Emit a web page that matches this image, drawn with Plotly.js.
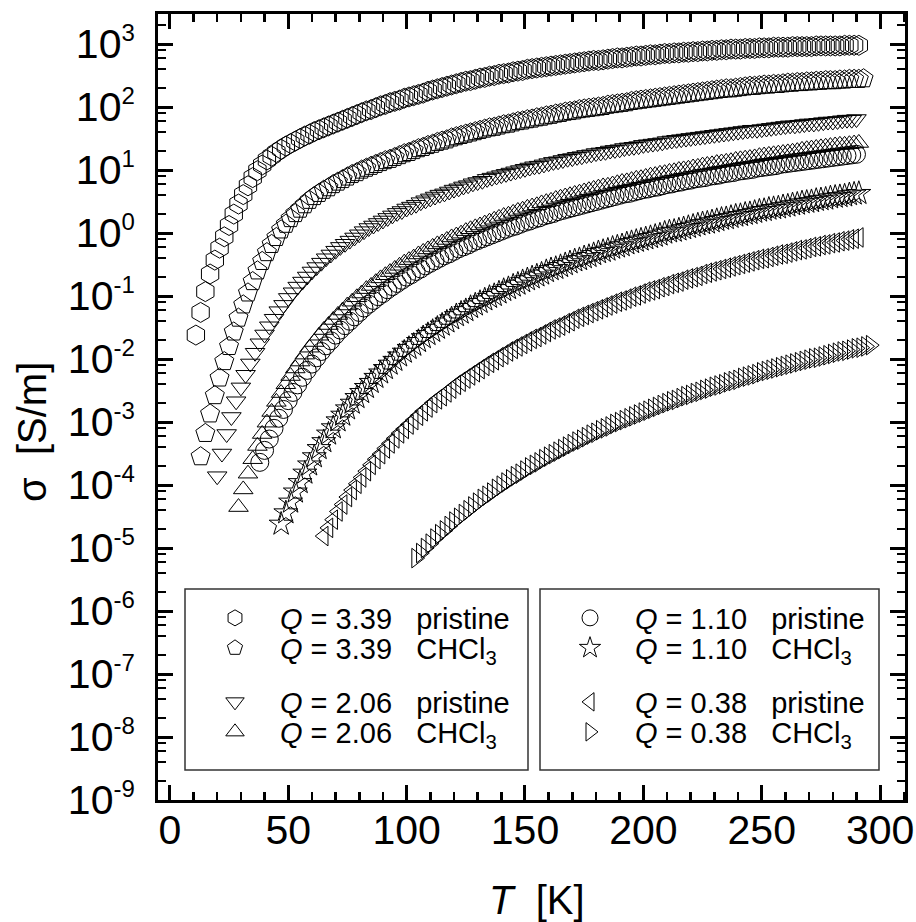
<!DOCTYPE html>
<html><head><meta charset="utf-8">
<script src="https://cdn.plot.ly/plotly-3.0.1.min.js"></script>
<style>html,body{margin:0;padding:0;background:#fff}#chart{width:916px;height:922px}</style>
</head><body><div id="chart"></div>
<script>
// Temperatures T [K] and log10(sigma [S/m])
const T_hex = [11,13,15,17,19,21,23,25,27,29,31,33,35,
37,39,41,43,45,47,49,51,53,55,57,59,61,63,65,67,69,71,73,75,77,79,81,83,85,87,89,91,93,95,97,99,
101,103,105,107,109,111,113,115,117,119,121,123,125,127,129,131,133,135,137,139,141,143,145,147,149,
151,153,155,157,159,161,163,165,167,169,171,173,175,177,179,181,183,185,187,189,191,193,195,197,199,
201,203,205,207,209,211,213,215,217,219,221,223,225,227,229,231,233,235,237,239,241,243,245,247,249,
251,253,255,257,259,261,263,265,267,269,271,273,275,277,279,281,283,285,287,289,291];
const logS_hex = [-1.62,-1.26,-0.93,-0.65,-0.43,-0.24,-0.06,0.12,0.30,0.46,0.61,0.75,0.88,
0.99,1.08,1.16,1.22,1.28,1.33,1.38,1.42,1.46,1.50,1.54,1.57,1.61,1.64,1.67,1.70,1.73,1.76,1.79,1.82,1.85,1.88,1.91,1.94,1.96,1.99,2.02,2.04,2.07,2.09,2.11,2.14,
2.16,2.18,2.20,2.22,2.25,2.27,2.29,2.31,2.33,2.35,2.37,2.39,2.41,2.42,2.44,2.46,2.47,2.49,2.50,2.52,2.53,2.54,2.56,2.57,2.58,
2.60,2.61,2.62,2.63,2.64,2.65,2.66,2.67,2.68,2.69,2.70,2.71,2.72,2.73,2.74,2.74,2.75,2.76,2.77,2.78,2.78,2.79,2.80,2.81,2.81,
2.82,2.83,2.83,2.84,2.85,2.85,2.86,2.86,2.87,2.87,2.88,2.88,2.89,2.89,2.90,2.90,2.91,2.91,2.92,2.92,2.92,2.93,2.93,2.93,2.94,
2.94,2.94,2.95,2.95,2.95,2.95,2.96,2.96,2.96,2.96,2.96,2.97,2.97,2.97,2.97,2.97,2.97,2.98,2.98,2.98,2.98];

const T_pent = [13,15,17,19,21,23,25,27,29,31,33,35,37,39,41,
43,45,47,49,51,53,55,57,59,61,63,65,67,69,71,73,75,77,79,81,83,85,87,89,91,93,95,97,99,
101,103,105,107,109,111,113,115,117,119,121,123,125,127,129,131,133,135,137,139,141,143,145,147,149,
151,153,155,157,159,161,163,165,167,169,171,173,175,177,179,181,183,185,187,189,191,193,195,197,199,
201,203,205,207,209,211,213,215,217,219,221,223,225,227,229,231,233,235,237,239,241,243,245,247,249,
251,253,255,257,259,261,263,265,267,269,271,273,275,277,279,281,283,285,287,289,291,293];
const logS_pent = [-3.55,-3.18,-2.87,-2.58,-2.30,-2.04,-1.80,-1.57,-1.35,-1.14,-0.95,-0.77,-0.60,-0.45,-0.31,
-0.18,-0.07,0.05,0.14,0.23,0.31,0.38,0.45,0.52,0.58,0.63,0.68,0.72,0.77,0.81,0.85,0.89,0.93,0.96,1.00,1.03,1.06,1.09,1.12,1.15,1.17,1.20,1.23,1.26,
1.28,1.31,1.34,1.36,1.39,1.41,1.44,1.46,1.48,1.51,1.53,1.55,1.57,1.59,1.61,1.63,1.65,1.67,1.68,1.70,1.72,1.73,1.75,1.77,1.78,
1.80,1.81,1.83,1.84,1.86,1.87,1.89,1.90,1.92,1.93,1.94,1.96,1.97,1.98,1.99,2.00,2.01,2.03,2.04,2.05,2.06,2.07,2.09,2.10,2.11,
2.12,2.13,2.14,2.15,2.16,2.17,2.18,2.19,2.20,2.21,2.22,2.23,2.24,2.25,2.26,2.27,2.28,2.29,2.29,2.30,2.31,2.32,2.33,2.33,2.34,
2.35,2.35,2.36,2.36,2.37,2.38,2.38,2.39,2.39,2.40,2.40,2.41,2.41,2.42,2.42,2.42,2.43,2.43,2.44,2.44,2.44,2.45];

const T_tdown = [20,22,24,26,28,30,32,34,36,38,40,42,44,46,48,50,52,54,56,58,60,62,64,66,68,70,72,74,76,78,80,82,84,86,88,90,92,94,96,98,100,
102,104,106,108,110,112,114,116,118,120,122,124,126,128,130,132,134,136,138,140,142,144,146,148,150,
152,154,156,158,160,162,164,166,168,170,172,174,176,178,180,182,184,186,188,190,192,194,196,198,200,
202,204,206,208,210,212,214,216,218,220,222,224,226,228,230,232,234,236,238,240,242,244,246,248,250,
252,254,256,258,260,262,264,266,268,270,272,274,276,278,280,282,284,286,288,290];
const logS_tdown = [-3.86,-3.50,-3.19,-2.92,-2.67,-2.45,-2.25,-2.07,-1.90,-1.75,-1.61,-1.48,-1.36,-1.24,-1.14,-1.03,-0.94,-0.85,-0.77,-0.69,
-0.61,-0.54,-0.47,-0.40,-0.34,-0.28,-0.22,-0.17,-0.12,-0.07,-0.02,0.03,0.08,0.12,0.16,0.20,0.24,0.28,0.32,0.35,0.39,
0.42,0.45,0.49,0.52,0.55,0.58,0.61,0.63,0.66,0.69,0.71,0.74,0.76,0.79,0.81,0.83,0.86,0.88,0.90,0.92,0.94,0.96,0.98,1.00,1.02,
1.04,1.06,1.07,1.09,1.11,1.13,1.14,1.16,1.18,1.19,1.21,1.22,1.24,1.25,1.27,1.28,1.29,1.31,1.32,1.33,1.35,1.36,1.37,1.38,1.40,
1.41,1.42,1.43,1.44,1.46,1.47,1.48,1.49,1.50,1.51,1.52,1.53,1.54,1.55,1.56,1.57,1.58,1.59,1.60,1.61,1.62,1.63,1.64,1.64,1.65,
1.66,1.67,1.68,1.69,1.70,1.71,1.71,1.72,1.73,1.74,1.74,1.75,1.76,1.77,1.77,1.78,1.79,1.80,1.80,1.81];

const T_tup = [29,31,33,35,37,39,41,43,45,47,49,51,53,55,57,59,61,63,65,67,69,71,73,75,77,79,81,83,85,87,89,91,93,95,97,99,
101,103,105,107,109,111,113,115,117,119,121,123,125,127,129,131,133,135,137,139,141,143,145,147,149,
151,153,155,157,159,161,163,165,167,169,171,173,175,177,179,181,183,185,187,189,191,193,195,197,199,
201,203,205,207,209,211,213,215,217,219,221,223,225,227,229,231,233,235,237,239,241,243,245,247,249,
251,253,255,257,259,261,263,265,267,269,271,273,275,277,279,281,283,285,287,289,291];
const logS_tup = [-4.35,-4.07,-3.82,-3.59,-3.38,-3.19,-3.01,-2.84,-2.68,-2.54,-2.40,-2.27,-2.15,-2.04,-1.93,-1.82,-1.73,-1.63,-1.54,-1.46,
-1.38,-1.30,-1.23,-1.15,-1.09,-1.02,-0.96,-0.89,-0.84,-0.78,-0.72,-0.67,-0.62,-0.57,-0.52,-0.47,
-0.43,-0.39,-0.34,-0.30,-0.26,-0.22,-0.18,-0.15,-0.11,-0.07,-0.04,-0.01,0.03,0.06,0.09,0.12,0.15,0.18,0.21,0.24,0.27,0.29,0.32,0.35,0.37,
0.40,0.42,0.44,0.47,0.49,0.51,0.54,0.56,0.58,0.60,0.62,0.64,0.66,0.68,0.70,0.72,0.74,0.75,0.77,0.79,0.81,0.82,0.84,0.86,0.87,
0.89,0.91,0.92,0.94,0.95,0.97,0.98,1.00,1.01,1.02,1.04,1.05,1.07,1.08,1.09,1.11,1.12,1.13,1.14,1.16,1.17,1.18,1.19,1.20,1.22,
1.23,1.24,1.25,1.26,1.27,1.28,1.29,1.30,1.32,1.33,1.34,1.35,1.36,1.37,1.38,1.39,1.40,1.40,1.41,1.42,1.43];

const T_circ = [38,40,42,44,46,48,50,52,54,56,58,60,62,64,66,68,70,72,74,76,78,80,82,84,86,88,90,92,94,96,98,100,
102,104,106,108,110,112,114,116,118,120,122,124,126,128,130,132,134,136,138,140,142,144,146,148,150,
152,154,156,158,160,162,164,166,168,170,172,174,176,178,180,182,184,186,188,190,192,194,196,198,200,
202,204,206,208,210,212,214,216,218,220,222,224,226,228,230,232,234,236,238,240,242,244,246,248,250,
252,254,256,258,260,262,264,266,268,270,272,274,276,278,280,282,284,286,288,290];
const logS_circ = [-3.64,-3.45,-3.27,-3.10,-2.94,-2.80,-2.66,-2.53,-2.41,-2.29,-2.18,-2.08,-1.98,-1.88,-1.79,-1.71,-1.62,-1.54,-1.47,-1.40,
-1.33,-1.26,-1.19,-1.13,-1.07,-1.01,-0.96,-0.90,-0.85,-0.80,-0.75,-0.70,
-0.66,-0.61,-0.57,-0.52,-0.48,-0.44,-0.40,-0.36,-0.33,-0.29,-0.25,-0.22,-0.19,-0.15,-0.12,-0.09,-0.06,-0.03,0.00,0.03,0.06,0.09,0.11,0.14,0.17,
0.19,0.22,0.24,0.27,0.29,0.31,0.34,0.36,0.38,0.40,0.42,0.44,0.46,0.48,0.50,0.52,0.54,0.56,0.58,0.60,0.62,0.63,0.65,0.67,0.69,
0.70,0.72,0.73,0.75,0.77,0.78,0.80,0.81,0.83,0.84,0.86,0.87,0.88,0.90,0.91,0.92,0.94,0.95,0.96,0.98,0.99,1.00,1.01,1.03,1.04,
1.05,1.06,1.07,1.09,1.10,1.11,1.12,1.13,1.14,1.15,1.16,1.17,1.18,1.19,1.20,1.21,1.22,1.23,1.24,1.25];

const T_star = [47,49,51,53,55,57,59,61,63,65,67,69,71,73,75,77,79,81,83,85,87,89,91,93,95,97,99,
101,103,105,107,109,111,113,115,117,119,121,123,125,127,129,131,133,135,137,139,141,143,145,147,149,
151,153,155,157,159,161,163,165,167,169,171,173,175,177,179,181,183,185,187,189,191,193,195,197,199,
201,203,205,207,209,211,213,215,217,219,221,223,225,227,229,231,233,235,237,239,241,243,245,247,249,
251,253,255,257,259,261,263,265,267,269,271,273,275,277,279,281,283,285,287,289,291];
const logS_star = [-4.62,-4.44,-4.27,-4.11,-3.96,-3.81,-3.68,-3.55,-3.42,-3.31,-3.19,-3.09,-2.98,-2.89,-2.79,-2.70,-2.61,-2.53,-2.45,-2.37,
-2.29,-2.22,-2.15,-2.08,-2.02,-1.95,-1.89,
-1.83,-1.78,-1.72,-1.66,-1.61,-1.56,-1.51,-1.46,-1.41,-1.36,-1.31,-1.27,-1.23,-1.18,-1.14,-1.10,-1.06,-1.02,-0.99,-0.95,-0.91,-0.88,-0.84,-0.81,-0.77,
-0.74,-0.71,-0.68,-0.65,-0.61,-0.58,-0.56,-0.53,-0.50,-0.47,-0.44,-0.42,-0.39,-0.37,-0.34,-0.31,-0.29,-0.27,-0.24,-0.22,-0.20,-0.17,-0.15,-0.13,-0.11,
-0.09,-0.07,-0.05,-0.03,0.00,0.02,0.03,0.05,0.07,0.09,0.11,0.13,0.15,0.16,0.18,0.20,0.22,0.23,0.25,0.27,0.28,0.30,0.31,0.33,0.35,
0.36,0.38,0.39,0.40,0.42,0.43,0.45,0.46,0.48,0.49,0.50,0.52,0.53,0.54,0.56,0.57,0.58,0.59,0.61,0.62,0.63];

const T_tleft = [65,67,69,71,73,75,77,79,81,83,85,87,89,91,93,95,97,99,
101,103,105,107,109,111,113,115,117,119,121,123,125,127,129,131,133,135,137,139,141,143,145,147,149,
151,153,155,157,159,161,163,165,167,169,171,173,175,177,179,181,183,185,187,189,191,193,195,197,199,
201,203,205,207,209,211,213,215,217,219,221,223,225,227,229,231,233,235,237,239,241,243,245,247,249,
251,253,255,257,259,261,263,265,267,269,271,273,275,277,279,281,283,285,287,289,291];
const logS_tleft = [-4.81,-4.68,-4.55,-4.42,-4.31,-4.19,-4.08,-3.98,-3.88,-3.78,-3.68,-3.59,-3.51,-3.42,-3.34,-3.26,-3.18,-3.11,
-3.04,-2.97,-2.90,-2.83,-2.77,-2.70,-2.64,-2.59,-2.53,-2.47,-2.41,-2.36,-2.31,-2.26,-2.21,-2.16,-2.11,-2.06,-2.02,-1.97,-1.93,-1.88,-1.84,-1.80,-1.76,
-1.72,-1.68,-1.65,-1.61,-1.57,-1.53,-1.50,-1.47,-1.43,-1.40,-1.36,-1.33,-1.30,-1.27,-1.24,-1.21,-1.18,-1.15,-1.12,-1.09,-1.07,-1.04,-1.01,-0.99,-0.96,
-0.93,-0.91,-0.89,-0.86,-0.84,-0.81,-0.79,-0.77,-0.74,-0.72,-0.70,-0.68,-0.65,-0.63,-0.61,-0.59,-0.57,-0.55,-0.53,-0.51,-0.49,-0.47,-0.45,-0.43,-0.41,
-0.40,-0.38,-0.36,-0.34,-0.33,-0.31,-0.29,-0.27,-0.26,-0.24,-0.22,-0.21,-0.19,-0.18,-0.16,-0.15,-0.13,-0.12,-0.10,-0.09,-0.07];

const T_tright = [104,106,108,110,112,114,116,118,120,122,124,126,128,130,132,134,136,138,140,142,144,146,148,150,
152,154,156,158,160,162,164,166,168,170,172,174,176,178,180,182,184,186,188,190,192,194,196,198,200,
202,204,206,208,210,212,214,216,218,220,222,224,226,228,230,232,234,236,238,240,242,244,246,248,250,
252,254,256,258,260,262,264,266,268,270,272,274,276,278,280,282,284,286,288,290,292,294,296];
const logS_tright = [-5.16,-5.08,-5.00,-4.93,-4.85,-4.78,-4.72,-4.65,-4.58,-4.52,-4.46,-4.40,-4.34,-4.28,-4.22,-4.17,-4.12,-4.06,-4.01,
-3.96,-3.91,-3.86,-3.82,-3.77,-3.72,-3.68,-3.64,-3.59,-3.55,-3.51,-3.47,-3.43,-3.39,-3.35,-3.31,-3.28,-3.24,-3.20,-3.17,
-3.13,-3.10,-3.07,-3.03,-3.00,-2.97,-2.94,-2.91,-2.88,-2.85,
-2.82,-2.79,-2.76,-2.73,-2.70,-2.67,-2.65,-2.62,-2.59,-2.57,-2.54,-2.52,-2.49,-2.47,-2.44,-2.42,-2.40,-2.37,-2.35,-2.33,
-2.30,-2.28,-2.26,-2.24,-2.21,-2.19,-2.17,-2.15,-2.13,-2.11,-2.09,-2.07,-2.05,-2.03,-2.01,-1.99,-1.98,-1.96,-1.94,-1.92,
-1.90,-1.88,-1.87,-1.85,-1.83,-1.82,-1.80,-1.78];

const seriesNames = [
  '<i>Q</i> = 3.39\u00A0\u00A0\u00A0pristine',
  '<i>Q</i> = 3.39\u00A0\u00A0\u00A0CHCl<sub>3</sub>',
  '<i>Q</i> = 2.06\u00A0\u00A0\u00A0pristine',
  '<i>Q</i> = 2.06\u00A0\u00A0\u00A0CHCl<sub>3</sub>',
  '<i>Q</i> = 1.10\u00A0\u00A0\u00A0pristine',
  '<i>Q</i> = 1.10\u00A0\u00A0\u00A0CHCl<sub>3</sub>',
  '<i>Q</i> = 0.38\u00A0\u00A0\u00A0pristine',
  '<i>Q</i> = 0.38\u00A0\u00A0\u00A0CHCl<sub>3</sub>'
];
const yTickExp = [-9,-8,-7,-6,-5,-4,-3,-2,-1,0,1,2,3];
const yTickLabels = yTickExp.map(e => '10<sup><span style="font-size:24px">' + (e < 0 ? '-' + (-e) : e) + '</span></sup>');

const FONT = 'Liberation Sans, Arial, Helvetica, sans-serif';
const symbols = ['hexagon-open','pentagon-open','triangle-down-open','triangle-up-open','circle-open','star-open','triangle-left-open','triangle-right-open'];
const sizes = [20,20,17,17,18,18,17,17];
const Ts = [T_hex,T_pent,T_tdown,T_tup,T_circ,T_star,T_tleft,T_tright];
const Ls = [logS_hex,logS_pent,logS_tdown,logS_tup,logS_circ,logS_star,logS_tleft,logS_tright];
const legendIds = ['legend','legend2','legend3','legend4','legend5','legend6','legend7','legend8'];

const traces = Ts.map((T, i) => ({
  type: 'scatter', mode: 'markers', x: T, y: Ls[i].map(v => Math.pow(10, v)),
  name: seriesNames[i], legend: legendIds[i], cliponaxis: false,
  marker: {symbol: symbols[i], size: sizes[i], color: '#000', line: {width: 1, color: '#000'}}
}));

// plot area in px: left 158, right 905, top 14, bottom 800
const L = 158, R = 905, TOP = 14, B = 800;
const px2x = p => (p - L) / (R - L);
const px2y = p => (B - p) / (B - TOP);
const rowY = [618, 648, 702, 732];
const colX = [190, 545];

const layout = {
  width: 916, height: 922,
  margin: {l: L, r: 916 - R, t: TOP, b: 922 - B, pad: 0},
  paper_bgcolor: '#fff', plot_bgcolor: '#fff',
  font: {family: FONT, color: '#000'},
  showlegend: true,
  xaxis: {
    range: [-5, 310.5], tick0: 0, dtick: 50, ticks: 'inside', ticklen: 15, tickwidth: 3, tickcolor: '#000',
    showline: true, linewidth: 3, linecolor: '#000', mirror: 'allticks', showgrid: false, zeroline: false,
    tickfont: {family: FONT, size: 41, color: '#000'}, ticklabelstandoff: -8,
    minor: {dtick: 10, ticks: 'inside', ticklen: 8, tickwidth: 2.5, tickcolor: '#000', showgrid: false}
  },
  yaxis: {
    type: 'log', range: [-9, Math.log10(3000)], tickmode: 'array',
    tickvals: yTickExp.map(e => Math.pow(10, e)), ticktext: yTickLabels,
    ticks: 'inside', ticklen: 15, tickwidth: 3, tickcolor: '#000',
    showline: true, linewidth: 3, linecolor: '#000', mirror: 'allticks', showgrid: false, zeroline: false,
    tickfont: {family: FONT, size: 41, color: '#000'}, ticklabelstandoff: 12,
    minor: {tickmode: 'array', tickvals: (() => { const a = []; for (let e = -9; e <= 3; e++) for (const m of [2,4,6,8]) a.push(m * Math.pow(10, e)); return a; })(),
      ticks: 'inside', ticklen: 8, tickwidth: 2.5, tickcolor: '#000', showgrid: false}
  },
  shapes: [
    {type: 'rect', xref: 'paper', yref: 'paper', x0: px2x(185), x1: px2x(528), y0: px2y(770), y1: px2y(589), line: {color: '#333', width: 1.5}},
    {type: 'rect', xref: 'paper', yref: 'paper', x0: px2x(540), x1: px2x(879), y0: px2y(770), y1: px2y(589), line: {color: '#333', width: 1.5}}
  ],
  annotations: [
    {xref: 'paper', yref: 'paper', x: px2x(537), y: px2y(900), xanchor: 'center', yanchor: 'middle', showarrow: false,
     text: '<i>T</i>\u00A0\u00A0[K]', font: {family: FONT, size: 40, color: '#000'}},
    {xref: 'paper', yref: 'paper', x: px2x(32), y: px2y(432), xanchor: 'center', yanchor: 'middle', showarrow: false, textangle: -90,
     text: '\u03C3\u00A0\u00A0[S/m]', font: {family: FONT, size: 40, color: '#000'}}
  ]
};
legendIds.forEach((id, i) => {
  const col = i < 4 ? 0 : 1, row = i % 4;
  layout[id] = {
    x: px2x(colX[col]), y: px2y(rowY[row]), xanchor: 'left', yanchor: 'middle',
    bgcolor: 'rgba(0,0,0,0)', borderwidth: 0, itemwidth: 80, itemclick: false, itemdoubleclick: false,
    font: {family: FONT, size: 29, color: '#000'}
  };
});

Plotly.newPlot('chart', traces, layout, {staticPlot: true, displayModeBar: false});
</script>
</body></html>
